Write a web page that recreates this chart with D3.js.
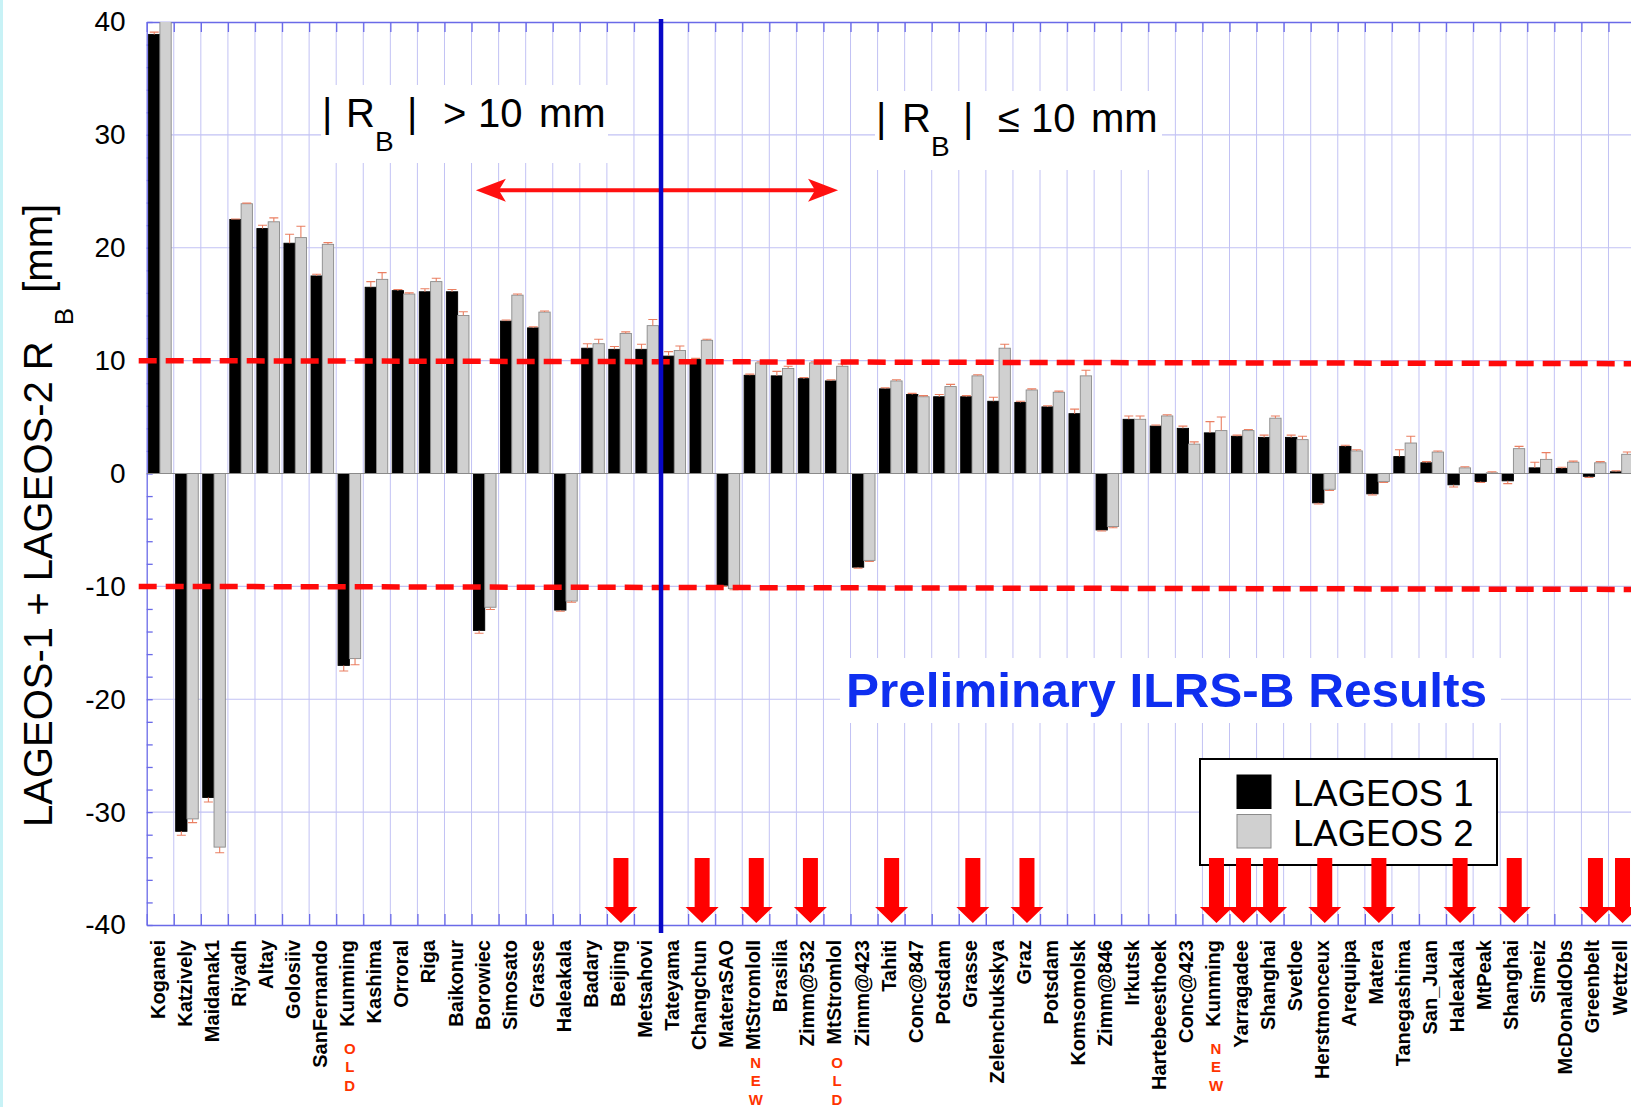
<!DOCTYPE html>
<html><head><meta charset="utf-8">
<script src="https://cdn.jsdelivr.net/npm/d3@7"></script>
<style>
body{margin:0;background:#fff;}
svg{display:block;}
text{font-family:"Liberation Sans", Arial, Helvetica, sans-serif;}
</style>
</head><body>
<svg id="c" width="1631" height="1107"></svg>
<script>
// ---------- data ----------
const stations = ["Koganei","Katzively","Maidanak1","Riyadh","Altay","Golosiiv","SanFernando","Kunming","Kashima","Orroral","Riga","Baikonur","Borowiec","Simosato","Grasse","Haleakala","Badary","Beijing","Metsahovi","Tateyama","Changchun","MateraSAO","MtStromloII","Brasilia","Zimm@532","MtStromlol","Zimm@423","Tahiti","Conc@847","Potsdam","Grasse","Zelenchukskya","Graz","Potsdam","Komsomolsk","Zimm@846","Irkutsk","Hartebeesthoek","Conc@423","Kunming","Yarragadee","Shanghai","Svetloe","Herstmonceux","Arequipa","Matera","Tanegashima","San_Juan","Haleakala","MtPeak","Shanghai","Simeiz","McDonaldObs","Greenbelt","Wettzell"];
const lageos1 = [38.9,-31.7,-28.7,22.5,21.7,20.4,17.5,-17.0,16.5,16.2,16.1,16.1,-13.9,13.5,12.9,-12.1,11.1,11.0,11.0,10.4,10.1,-9.9,8.7,8.65,8.4,8.2,-8.3,7.5,7.0,6.8,6.8,6.4,6.3,5.9,5.3,-5.0,4.8,4.2,4.0,3.6,3.3,3.2,3.2,-2.6,2.4,-1.8,1.5,0.95,-1.0,-0.7,-0.65,0.5,0.45,-0.25,0.15];
const lageos2 = [41.0,-30.6,-33.1,23.9,22.3,20.9,20.3,-16.4,17.2,15.9,17.0,14.0,-11.85,15.8,14.3,-11.3,11.5,12.4,13.1,10.9,11.8,-10.2,9.8,9.3,9.8,9.5,-7.7,8.2,6.8,7.7,8.65,11.1,7.4,7.2,8.65,-4.7,4.8,5.1,2.6,3.8,3.8,4.9,3.0,-1.4,2.0,-0.7,2.7,1.9,0.5,0.06,2.2,1.25,1.0,0.95,1.7];
const err1 = [0.2,0.35,0.4,0.05,0.3,0.8,0.15,0.5,0.5,0.1,0.27,0.2,0.25,0.1,0.1,0.1,0.4,0.25,0.45,0.4,0.1,0.1,0.1,0.4,0.1,0.1,0.1,0.1,0.1,0.2,0.1,0.35,0.1,0.1,0.4,0.1,0.3,0.1,0.2,1.0,0.1,0.2,0.2,0.1,0.1,0.1,0.6,0.1,0.2,0.1,0.25,0.5,0.1,0.1,0.1];
const err2 = [0.0,0.33,0.5,0.05,0.35,1.0,0.15,0.55,0.6,0.1,0.3,0.33,0.2,0.1,0.1,0.1,0.4,0.15,0.55,0.4,0.1,0.1,0.1,0.2,0.1,0.2,0.1,0.1,0.1,0.2,0.1,0.35,0.1,0.1,0.5,0.1,0.3,0.1,0.2,1.2,0.1,0.2,0.3,0.1,0.1,0.1,0.6,0.1,0.1,0.1,0.2,0.6,0.1,0.1,0.2];
const seriesNames = ["LAGEOS 1","LAGEOS 2"];
const yTicks = [40,30,20,10,0,-10,-20,-30,-40];
const yGrid = [30,20,10,-10,-20,-30];
const arrowStations = [17,20,22,24,27,30,32,39,40,41,43,45,48,50,53,54];
const stationNotes = [[7,"OLD"],[22,"NEW"],[25,"OLD"],[39,"NEW"]];
const thresholdLines = [[10,9.73],[-10,-10.27]];
const dividerIndex = 19;
const regionArrow = [12.16, 25.54, 25.1];

// ---------- setup ----------
const W = 1631, H = 1107;
const svg = d3.select("#c");
const x = d3.scaleBand().domain(d3.range(stations.length)).range([146.7, 146.7 + 27.07*stations.length]);
const xc = d3.scaleLinear().domain([0, stations.length]).range(x.range());
const y = d3.scaleLinear().domain([-40, 40]).range([925, 22]);
const bw = x.bandwidth();
const xs = d3.scaleBand().domain([0,1]).range([0.07*bw, 0.905*bw]);
const plotL = x.range()[0];
const gridColor = "#c2c2f4", axisColor = "#6a6ae8";
const seriesStyle = [{fill:"#000000", stroke:"#000000"},{fill:"#d0d0d0", stroke:"#8a8a8a"}];

svg.append("rect").attr("x",0).attr("y",0).attr("width",W).attr("height",H).attr("fill","#fff");
svg.append("rect").attr("x",0).attr("y",0).attr("width",3).attr("height",H).attr("fill","#c8f2f6");

// grid
const grid = svg.append("g");
grid.selectAll("line.v").data(d3.range(1, stations.length+1)).join("line").attr("class","v")
  .attr("x1", i=>xc(i)).attr("x2", i=>xc(i)).attr("y1", y(40)).attr("y2", y(-40))
  .attr("stroke", gridColor).attr("stroke-width", 1);
grid.selectAll("line.h").data(yGrid).join("line").attr("class","h")
  .attr("x1", plotL).attr("x2", W).attr("y1", d=>y(d)).attr("y2", d=>y(d))
  .attr("stroke", gridColor).attr("stroke-width", 1.2);

// axes (ticks)
const axL = svg.append("g").attr("transform",`translate(${plotL},0)`)
  .call(d3.axisRight(y).tickValues(d3.range(-40,41,2)).tickSize(6).tickSizeOuter(0).tickFormat(""));
const axT = svg.append("g").attr("transform",`translate(0,${y(40)})`)
  .call(d3.axisBottom(xc).tickValues(d3.range(0, stations.length+1)).tickSize(10).tickSizeOuter(0).tickFormat(""));
const axB = svg.append("g").attr("transform",`translate(0,${y(-40)})`)
  .call(d3.axisTop(xc).tickValues(d3.range(0, stations.length+1)).tickSize(11).tickSizeOuter(0).tickFormat(""));
[axL,axT,axB].forEach(a=>{ a.selectAll("path,line").attr("stroke", axisColor).attr("stroke-width",1.3); });

// white boxes behind annotations
const boxes = [[321,85,287,78],[875,91,287,79],[840,658,661,65]];
svg.selectAll("rect.wb").data(boxes).join("rect").attr("class","wb")
  .attr("x",d=>d[0]).attr("y",d=>d[1]).attr("width",d=>d[2]).attr("height",d=>d[3]).attr("fill","#fff");

// tick labels
const axLab = svg.append("g").attr("transform",`translate(${plotL},0)`)
  .call(d3.axisLeft(y).tickValues(yTicks).tickSize(0).tickPadding(21).tickFormat(d=>String(d)));
axLab.select(".domain").remove();
axLab.selectAll("text").attr("font-size",28).attr("fill","#000")
  .attr("font-family",'"Liberation Sans", Arial, sans-serif');

// bars
svg.append("clipPath").attr("id","clip").append("rect")
  .attr("x",plotL).attr("y",y(40)).attr("width",W-plotL).attr("height",y(-40)-y(40));
const barsG = svg.append("g").attr("clip-path","url(#clip)");
[lageos1, lageos2].forEach((vals, s)=>{
  barsG.selectAll(`rect.s${s}`).data(vals).join("rect").attr("class",`s${s}`)
    .attr("x",(d,i)=>x(i)+xs(s)).attr("width",xs.bandwidth())
    .attr("y",d=>y(Math.max(0,d))).attr("height",d=>Math.abs(y(d)-y(0)))
    .attr("fill",seriesStyle[s].fill).attr("stroke",seriesStyle[s].stroke).attr("stroke-width",0.9);
});
[[lageos1,err1],[lageos2,err2]].forEach(([vals,errs], s)=>{
  barsG.selectAll(`path.e${s}`).data(vals).join("path").attr("class",`e${s}`)
    .attr("d",(d,i)=>{
      const cx = x(i)+xs(s)+xs.bandwidth()/2;
      const e = errs[i]; if(!e) return "";
      const y0 = y(d), y1 = y(d + (d>=0? e : -e));
      return `M${cx},${y0}V${y1}M${cx-4.5},${y1}H${cx+4.5}`;
    })
    .attr("fill","none").attr("stroke","#ea7f62").attr("stroke-width",1.1);
});
// zero line
svg.append("line").attr("x1",plotL).attr("x2",W).attr("y1",y(0)).attr("y2",y(0))
  .attr("stroke","#8a8a8a").attr("stroke-width",1.2);

// threshold dashed lines
svg.selectAll("line.th").data(thresholdLines).join("line").attr("class","th")
  .attr("x1",plotL-8).attr("x2",W).attr("y1",d=>y(d[0])).attr("y2",d=>y(d[1]))
  .attr("stroke","#ff0a0a").attr("stroke-width",5.5).attr("stroke-dasharray","18,9");

// region arrow
const ay = y(regionArrow[2]), ax1 = xc(regionArrow[0]), ax2 = xc(regionArrow[1]);
svg.append("line").attr("x1",ax1+22).attr("x2",ax2-22).attr("y1",ay).attr("y2",ay)
  .attr("stroke","#ff1010").attr("stroke-width",4);
svg.append("path").attr("d",`M${ax1},${ay}L${ax1+30},${ay-11.5}L${ax1+23},${ay}L${ax1+30},${ay+11.5}Z`).attr("fill","#ff1010");
svg.append("path").attr("d",`M${ax2},${ay}L${ax2-30},${ay-11.5}L${ax2-23},${ay}L${ax2-30},${ay+11.5}Z`).attr("fill","#ff1010");

// divider line
svg.append("line").attr("x1",xc(dividerIndex)).attr("x2",xc(dividerIndex))
  .attr("y1",y(40)-3).attr("y2",y(-40)+8).attr("stroke","#0808c8").attr("stroke-width",4.5);

// annotation texts
function rbLabel(parts, base){
  const t = svg.append("text").attr("font-size",40).attr("fill","#000");
  parts.forEach(p=>{
    t.append("tspan").attr("x",p[0]).attr("y",base + (p[2]||0))
      .attr("font-size",p[2]?28:40).text(p[1]);
  });
}
rbLabel([[322,"|"],[346,"R"],[375,"B",24],[407,"|"],[443,">"],[478,"10"],[539,"mm"]],127);
rbLabel([[876,"|"],[902,"R"],[931,"B",24],[963,"|"],[998,"\u2264"],[1031,"10"],[1091,"mm"]],132);

svg.append("text").attr("x",846).attr("y",707).attr("font-size",48).attr("font-weight","bold")
  .attr("fill","#0f2ff0").attr("textLength",641).attr("lengthAdjust","spacingAndGlyphs")
  .text("Preliminary ILRS-B Results");

// legend
svg.append("rect").attr("x",1200).attr("y",759).attr("width",297).attr("height",106)
  .attr("fill","#fff").attr("stroke","#000").attr("stroke-width",2);
seriesNames.forEach((n,s)=>{
  svg.append("rect").attr("x",1237).attr("y",775+s*39.5).attr("width",34).attr("height",33.5)
    .attr("fill",seriesStyle[s].fill).attr("stroke",seriesStyle[s].stroke).attr("stroke-width",1);
  svg.append("text").attr("x",1293).attr("y",806+s*40).attr("font-size",36.5).attr("fill","#000").text(n);
});

// down arrows
svg.selectAll("path.da").data(arrowStations).join("path").attr("class","da")
  .attr("d",i=>{
    const c = x(i)+bw/2+0.5;
    return `M${c-7.5},858H${c+7.5}V907H${c+16.5}L${c},923L${c-16.5},907H${c-7.5}Z`;
  }).attr("fill","#ff0000");

// category labels
const labY = 940;
const labs = svg.selectAll("text.cat").data(stations).join("text").attr("class","cat")
  .attr("transform",(d,i)=>`translate(${x(i)+bw/2-2.5},${labY}) rotate(-90)`)
  .attr("text-anchor","end").attr("dominant-baseline","central")
  .attr("font-size",20).attr("font-weight","bold").attr("fill","#000").text(d=>d);
const labNodes = labs.nodes();
stationNotes.forEach(([i,word])=>{
  const end = labY + labNodes[i].getComputedTextLength();
  const start = (end + 11 > 1048) ? 1062 : 1048;
  word.split("").forEach((ch,k)=>{
    svg.append("text").attr("x",x(i)+bw/2).attr("y",start + k*18.5)
      .attr("text-anchor","middle").attr("dominant-baseline","central")
      .attr("font-size",15).attr("font-weight","bold").attr("fill","#ff3300").text(ch);
  });
});

// y axis title
const yt = svg.append("text").attr("transform","translate(52,827) rotate(-90)")
  .attr("font-size",40).attr("fill","#000");
yt.append("tspan").text("LAGEOS-1 + LAGEOS-2 R");
yt.append("tspan").attr("font-size",26).attr("dy",21).attr("dx",16).text("B");
yt.append("tspan").attr("dy",-21).attr("dx",4).text(" [mm]");
</script>
</body></html>
